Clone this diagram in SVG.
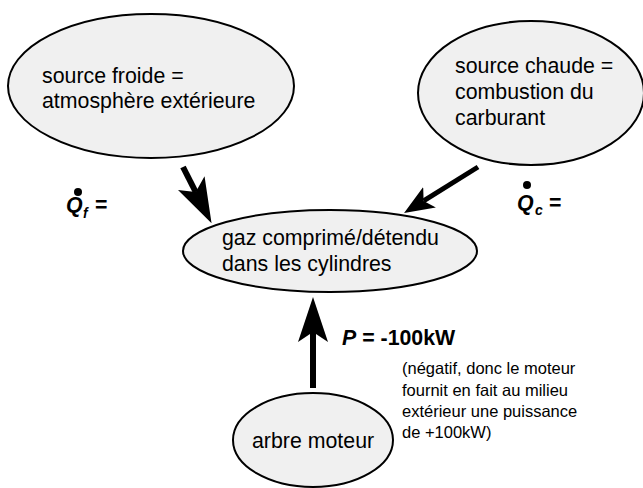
<svg xmlns="http://www.w3.org/2000/svg" width="643" height="488" viewBox="0 0 643 488">
<style>
.node{fill:#f0f0f0;stroke:#000;stroke-width:2}
.t{font-family:"Liberation Sans",Arial,Helvetica,sans-serif;font-size:21.33px;fill:#000}
.s{font-family:"Liberation Sans",Arial,Helvetica,sans-serif;font-size:16.5px;fill:#000}
.b{font-family:"Liberation Sans",Arial,Helvetica,sans-serif;font-weight:bold;fill:#000}
.conn{stroke:#000;fill:none}
</style>
<defs>
<marker id="headL" viewBox="0 0 45 30" refX="10" refY="15" markerWidth="45" markerHeight="30" markerUnits="userSpaceOnUse" orient="auto">
<path d="M0,0 L45,15 L0,30 L10,15 Z" fill="#000"/>
</marker>
<marker id="headS" viewBox="0 0 30 24" refX="7" refY="12" markerWidth="30" markerHeight="24" markerUnits="userSpaceOnUse" orient="auto">
<path d="M0,0 L30,12 L0,24 L7,12 Z" fill="#000"/>
</marker>
</defs>
<g id="source-froide">
<ellipse class="node" cx="151" cy="86" rx="143" ry="72"/>
<text class="t" x="42" y="83">source froide =</text>
<text class="t" x="42" y="108">atmosphère extérieure</text>
</g>
<g id="source-chaude">
<ellipse class="node" cx="531" cy="93" rx="113" ry="72"/>
<text class="t" x="455" y="73">source chaude =</text>
<text class="t" x="455" y="99">combustion du</text>
<text class="t" x="455" y="125">carburant</text>
</g>
<g id="gaz">
<ellipse class="node" cx="330" cy="251" rx="147" ry="41"/>
<text class="t" x="222" y="245">gaz comprimé/détendu</text>
<text class="t" x="222" y="271">dans les cylindres</text>
</g>
<g id="arbre">
<ellipse class="node" cx="313" cy="440" rx="80" ry="47"/>
<text class="t" x="252" y="448">arbre moteur</text>
</g>
<g id="connectors">
<line class="conn" x1="183" y1="167" x2="195.7" y2="192" stroke-width="6" marker-end="url(#headL)"/>
<line class="conn" x1="478" y1="167" x2="423.6" y2="200.9" stroke-width="5" marker-end="url(#headS)"/>
<line class="conn" x1="313" y1="388" x2="313" y2="332" stroke-width="6" marker-end="url(#headL)"/>
</g>
<g id="label-qf">
<circle cx="78" cy="192" r="4" fill="#000"/>
<text class="b" x="66" y="212" font-size="21.33" font-style="italic">Q</text>
<text class="b" x="83" y="218" font-size="14" font-style="italic">f</text>
<text class="b" x="95" y="212" font-size="21.33">=</text>
</g>
<g id="label-qc">
<circle cx="527" cy="185" r="4" fill="#000"/>
<text class="b" x="517" y="210" font-size="21.33" font-style="italic">Q</text>
<text class="b" x="535" y="215" font-size="14" font-style="italic">c</text>
<text class="b" x="549" y="210" font-size="21.33">=</text>
</g>
<g id="label-p">
<text class="b" x="342" y="345" font-size="21.33"><tspan font-style="italic">P</tspan> = -100kW</text>
</g>
<g id="note">
<text class="s" x="402" y="374">(négatif, donc le moteur</text>
<text class="s" x="402" y="395.5">fournit en fait au milieu</text>
<text class="s" x="402" y="417">extérieur une puissance</text>
<text class="s" x="402" y="438">de +100kW)</text>
</g>
</svg>
